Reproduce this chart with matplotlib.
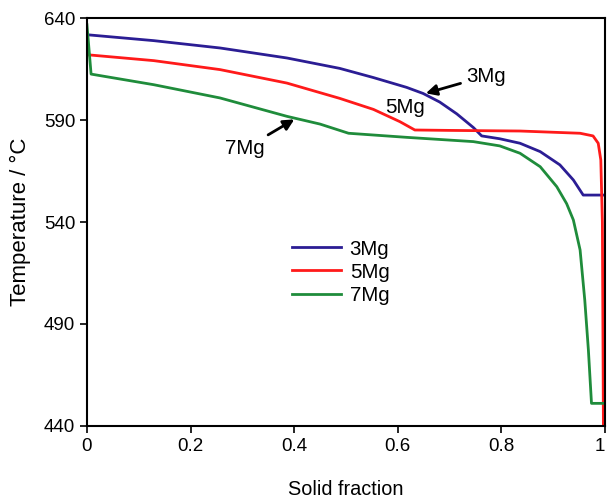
"""Solidification paths of the 3Mg, 5Mg and 7Mg alloys."""

import matplotlib
matplotlib.use('Agg')
matplotlib.rcParams['font.family'] = ['Liberation Sans', 'DejaVu Sans']
import matplotlib.pyplot as plt

# 3Mg
fs_3mg = [0, 0.129, 0.257, 0.386, 0.488, 0.553, 0.617, 0.649, 0.681, 0.714,
          0.746, 0.762, 0.797, 0.836, 0.875, 0.913, 0.939, 0.958, 0.997]
t_3mg = [631.8, 628.9, 625.3, 620.4, 615.3, 610.8, 606.0, 603.0, 598.8, 593.0,
         586.3, 582.2, 580.8, 578.6, 574.5, 568, 560.6, 553.2, 553.2]

# 5Mg
fs_5mg = [0, 0.129, 0.257, 0.386, 0.488, 0.553, 0.604, 0.633, 0.7, 0.836,
          0.952, 0.977, 0.987, 0.992, 0.995, 0.997]
t_5mg = [622.0, 619.1, 614.7, 608.1, 600.6, 595.2, 589.2, 585.1, 584.9, 584.6,
         583.5, 582.2, 578.6, 570.4, 540, 440]

# 7Mg
fs_7mg = [0, 0.008, 0.129, 0.257, 0.386, 0.45, 0.505, 0.617, 0.746, 0.797,
          0.836, 0.875, 0.907, 0.926, 0.939, 0.952, 0.961, 0.968, 0.974, 0.999]
t_7mg = [636.7, 612.5, 607.3, 600.8, 591.8, 588.0, 583.5, 581.5, 579.4, 577.3,
         573.7, 567.1, 557.3, 549, 541, 526.3, 501.8, 477.3, 451.1, 451.1]

x_ticks = [0, 0.2, 0.4, 0.6, 0.8, 1]
x_labels = ['0', '0.2', '0.4', '0.6', '0.8', '1']
y_ticks = [440, 490, 540, 590, 640]


def main():
    fig = plt.figure(figsize=(6.08, 5.0), dpi=100)
    ax = fig.add_axes([0.143, 0.148, 0.852, 0.816])

    ax.plot(fs_3mg, t_3mg, color='#2b1d94', lw=2, label='3Mg')
    ax.plot(fs_5mg, t_5mg, color='#ff1a1a', lw=2, label='5Mg')
    ax.plot(fs_7mg, t_7mg, color='#1f8c3b', lw=2, label='7Mg')

    ax.set_xlim(0, 1)
    ax.set_ylim(440, 640)
    ax.set_xticks(x_ticks)
    ax.set_xticklabels(x_labels)
    ax.get_xticklabels()[-1].set_ha('right')
    ax.set_yticks(y_ticks)
    ax.tick_params(direction='out', labelsize=13.5, width=1.2, length=5)
    for sp in ax.spines.values():
        sp.set_linewidth(1.5)

    ax.set_xlabel('Solid fraction', fontsize=14.3, labelpad=18)
    ax.set_ylabel('Temperature / °C', fontsize=16, labelpad=9)

    arrow = dict(arrowstyle='-|>', color='black', lw=2, mutation_scale=16)
    ax.annotate('3Mg', xy=(0.649, 602.7), xytext=(0.77, 611.5),
                fontsize=14.8, ha='center', va='center', arrowprops=arrow)
    ax.text(0.614, 596, '5Mg', fontsize=14.8, ha='center', va='center')
    ax.annotate('7Mg', xy=(0.405, 591), xytext=(0.305, 576),
                fontsize=14.8, ha='center', va='center', arrowprops=arrow)

    ax.legend(loc='center', bbox_to_anchor=(0.49, 0.377), frameon=False,
              fontsize=14.8, handlelength=2.4, handletextpad=0.4,
              labelspacing=0.2)

    fig.savefig('out.png', dpi=100)


if __name__ == '__main__':
    main()
